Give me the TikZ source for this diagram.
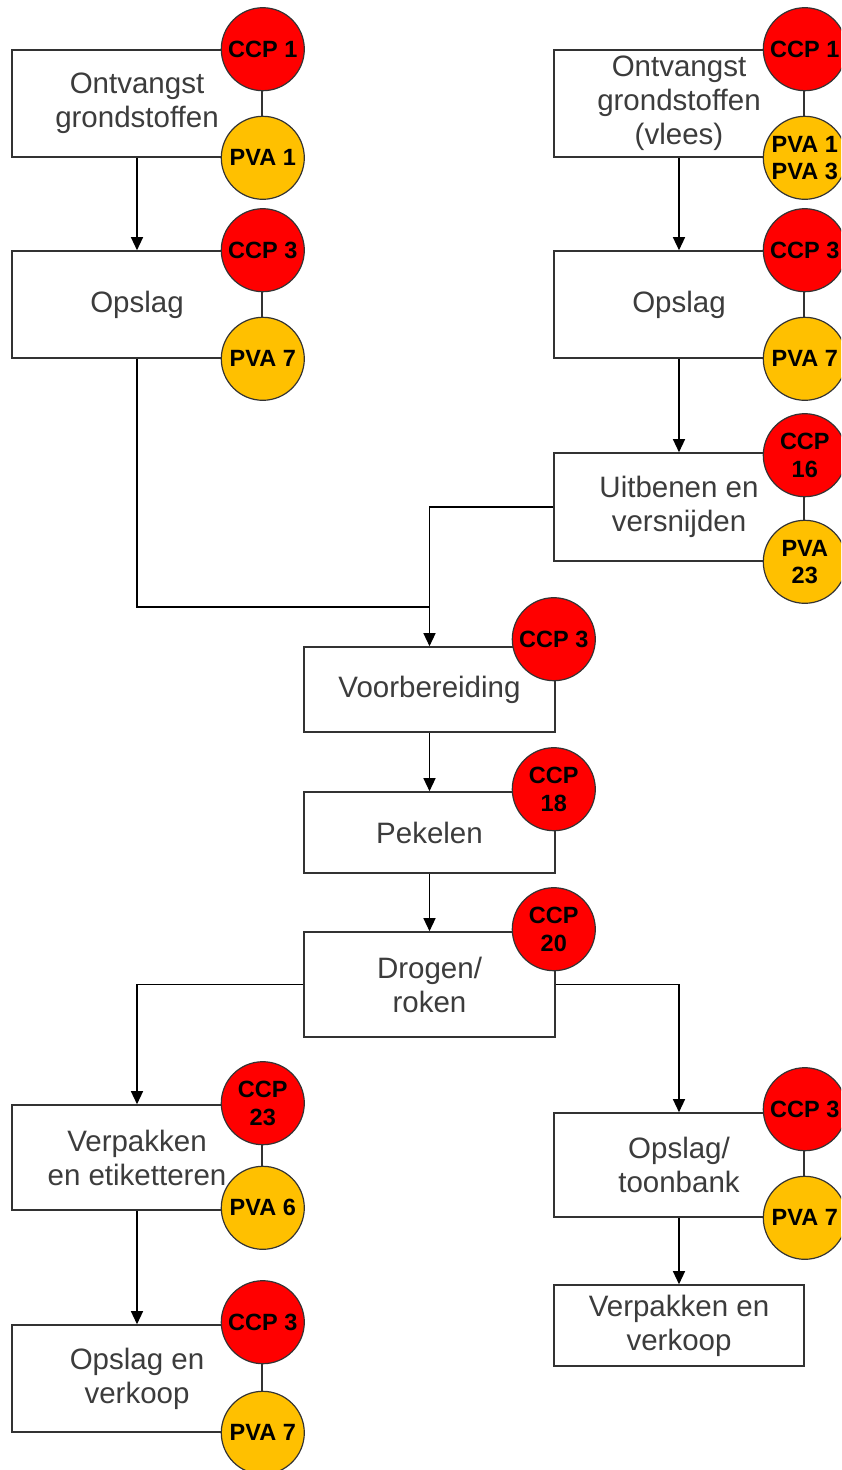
\documentclass[tikz,border=0pt]{standalone}
\usepackage{fontspec}
\setmainfont{Liberation Sans}
\usetikzlibrary{arrows.meta}
\definecolor{ccpred}{RGB}{255,0,0}
\definecolor{pvayel}{RGB}{255,192,0}
\definecolor{txtgray}{RGB}{60,60,60}
\definecolor{edgegray}{RGB}{50,50,50}
\begin{document}
\begin{tikzpicture}[x=1pt,y=-1pt,
 box/.style={draw=edgegray, line width=1.6pt, fill=white, text=txtgray, align=center,
   font=\fontsize{29.5}{34}\selectfont, inner sep=0pt, minimum width=250pt},
 ccp/.style={circle, draw=black!80, line width=1.2pt, fill=ccpred, minimum size=83pt,
   inner sep=0pt, align=center, text=black, font=\fontsize{23.5}{27.5}\selectfont\bfseries},
 pva/.style={ccp, fill=pvayel},
 conn/.style={draw=black, line width=1.3pt},
 arr/.style={conn, -{Triangle[width=12pt,length=13pt]}}]
\useasboundingbox (0,0) rectangle (841,1470);
\clip (0,0) rectangle (841,1470);
\fill[white] (0,0) rectangle (841,1470);

% boxes
\node[box, minimum height=107pt] (b1) at (137,103.5) {Ontvangst\\grondstoffen};
\node[box, minimum height=107pt] (b2) at (137,304.5) {Opslag};
\node[box, minimum height=107pt] (r1) at (679,103.5) {Ontvangst\\grondstoffen\\(vlees)};
\node[box, minimum height=107pt] (r2) at (679,304.5) {Opslag};
\node[box, minimum height=108pt] (r3) at (679,507) {Uitbenen en\\versnijden};
\node[box, minimum width=251pt, minimum height=85pt] (v) at (429.5,689.5) {Voorbereiding};
\node[box, minimum width=251pt, minimum height=81pt] (p) at (429.5,832.5) {Pekelen};
\node[box, minimum width=251pt, minimum height=105pt] (d) at (429.5,984.5) {Drogen/\\roken};
\node[box, minimum height=105pt] (e) at (137,1157.5) {Verpakken\\en etiketteren};
\node[box, minimum height=107pt] (ov) at (137,1378.5) {Opslag en\\verkoop};
\node[box, minimum height=104pt] (t) at (679,1165) {Opslag/\\toonbank};
\node[box, minimum height=81pt] (vv) at (679,1325.5) {Verpakken en\\verkoop};

% connectors
\coordinate (j) at (429.5,607);
\draw[arr] (b1.south) -- (b2.north);
\draw[arr] (r1.south) -- (r2.north);
\draw[arr] (r2.south) -- (r3.north);
\draw[conn] (b2.south) |- (j);
\draw[arr] (r3.west) -| (v.north);
\draw[arr] (v.south) -- (p.north);
\draw[arr] (p.south) -- (d.north);
\draw[arr] (d.west) -| (e.north);
\draw[arr] (d.east) -| (t.north);
\draw[arr] (e.south) -- (ov.north);
\draw[arr] (t.south) -- (vv.north);

% control points
\node[ccp] (b1c) at (b1.north east) {CCP 1};
\node[pva] (b1p) at (b1.south east) {PVA 1};
\node[ccp] (b2c) at (b2.north east) {CCP 3};
\node[pva] (b2p) at (b2.south east) {PVA 7};
\node[ccp] (r1c) at (r1.north east) {CCP 1};
\node[pva] (r1p) at (r1.south east) {PVA 1\\PVA 3};
\node[ccp] (r2c) at (r2.north east) {CCP 3};
\node[pva] (r2p) at (r2.south east) {PVA 7};
\node[ccp] (r3c) at ([yshift=-3pt]r3.north east) {CCP\\16};
\node[pva] (r3p) at (r3.south east) {PVA\\23};
\node[ccp] (vc) at ([xshift=-2pt,yshift=7pt]v.north east) {CCP 3};
\node[ccp] (pc) at ([xshift=-2pt,yshift=2pt]p.north east) {CCP\\18};
\node[ccp] (dc) at ([xshift=-2pt,yshift=2pt]d.north east) {CCP\\20};
\node[ccp] (ec) at ([yshift=1pt]e.north east) {CCP\\23};
\node[pva] (ep) at ([yshift=3pt]e.south east) {PVA 6};
\node[ccp] (ovc) at ([yshift=2pt]ov.north east) {CCP 3};
\node[pva] (ovp) at (ov.south east) {PVA 7};
\node[ccp] (tc) at ([yshift=3pt]t.north east) {CCP 3};
\node[pva] (tp) at (t.south east) {PVA 7};
\end{tikzpicture}
\end{document}
